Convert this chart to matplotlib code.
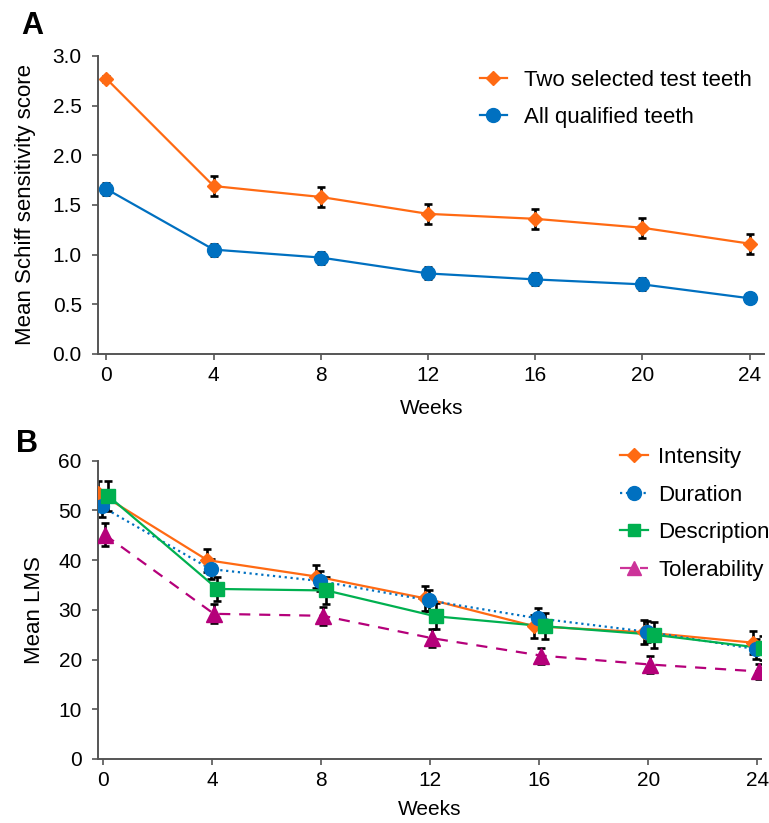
"""
Schiff sensitivity and LMS scores over 24 weeks (panels A and B)
"""

import matplotlib

matplotlib.use("Agg")
import matplotlib.pyplot as plt
from matplotlib.lines import Line2D

plt.rcParams["font.family"] = ["Liberation Sans", "DejaVu Sans"]

# --- data -------------------------------------------------------------
weeks = [0, 4, 8, 12, 16, 20, 24]
week_ticks = [0, 4, 8, 12, 16, 20, 24]

# panel A
schiff_test = [2.77, 1.69, 1.58, 1.41, 1.36, 1.27, 1.11]
schiff_test_err = [0.03, 0.10, 0.10, 0.10, 0.10, 0.10, 0.10]
schiff_all = [1.66, 1.05, 0.97, 0.81, 0.75, 0.70, 0.56]
schiff_all_err = [0.06, 0.06, 0.06, 0.06, 0.06, 0.06, 0.05]

# panel B
lms_intensity = [53.6, 40.0, 36.7, 32.3, 26.7, 25.5, 23.4]
lms_intensity_err = [2.3, 2.3, 2.4, 2.5, 2.3, 2.4, 2.3]
lms_duration = [50.8, 38.2, 35.8, 31.9, 28.3, 25.6, 22.1]
lms_duration_err = [2.1, 2.0, 2.1, 2.1, 2.0, 2.1, 2.0]
lms_description = [52.9, 34.2, 33.9, 28.7, 26.7, 25.0, 22.3]
lms_description_err = [3.0, 2.5, 2.8, 2.6, 2.6, 2.6, 2.4]
lms_tolerability = [45.1, 29.2, 28.8, 24.3, 20.8, 19.0, 17.6]
lms_tolerability_err = [2.3, 1.9, 1.8, 1.8, 1.6, 1.7, 1.5]

ORANGE = "#FF6A13"
BLUE = "#0070C0"
GREEN = "#00B050"
MAGENTA = "#B5007A"
PINK = "#CC3399"
SPINE = "#555555"

FS_TICK = 15
FS_XLABEL = 15
FS_YLABEL = 16
FS_LEGEND = 16


def style_axis(ax):
    for side in ("top", "right"):
        ax.spines[side].set_visible(False)
    for side in ("left", "bottom"):
        ax.spines[side].set_color(SPINE)
        ax.spines[side].set_linewidth(1.4)
    ax.tick_params(direction="out", length=4, width=1.2, color=SPINE,
                   labelsize=FS_TICK)
    ax.tick_params(axis="y", pad=8)
    ax.tick_params(axis="x", pad=5)
    ax.set_xticks(week_ticks)


def draw_series(ax, x, y, err, color, marker, ms, ls, label, dx=0.0):
    xs = [v + dx for v in x]
    ax.errorbar(xs, y, yerr=err, fmt="none", ecolor="black", elinewidth=1.9,
                capsize=3.2, capthick=1.9, zorder=2)
    ax.plot(xs, y, color=color, linestyle=ls, linewidth=1.6, zorder=3)
    ax.plot(xs, y, linestyle="none", marker=marker, markersize=ms,
            markerfacecolor=color, markeredgecolor=color, zorder=4, label=label)


fig = plt.figure(figsize=(7.69, 8.23), dpi=100)

# --- panel A ------------------------------------------------------------
axA = fig.add_axes([0.128, 0.570, 0.866, 0.362])
draw_series(axA, weeks, schiff_test, schiff_test_err, ORANGE, "D", 7.5, "-",
            "Two selected test teeth")
draw_series(axA, weeks, schiff_all, schiff_all_err, BLUE, "o", 10, "-",
            "All qualified teeth")
axA.set_xlim(-0.3, 24.55)
axA.set_ylim(0, 3.0)
axA.set_yticks([0.0, 0.5, 1.0, 1.5, 2.0, 2.5, 3.0])
axA.set_yticklabels([f"{v:.1f}" for v in axA.get_yticks()])
style_axis(axA)
axA.set_xlabel("Weeks", fontsize=FS_XLABEL, labelpad=10)
axA.set_ylabel("Mean Schiff sensitivity score", fontsize=FS_YLABEL,
               labelpad=12)

handlesA = [
    Line2D([], [], color=ORANGE, lw=1.6, marker="D", ms=7),
    Line2D([], [], color=BLUE, lw=1.6, marker="o", ms=10),
]
axA.legend(handlesA, ["Two selected test teeth", "All qualified teeth"],
           loc="upper left", bbox_to_anchor=(0.6125, 0.926),
           bbox_transform=fig.transFigure, frameon=False, fontsize=FS_LEGEND,
           handlelength=1.2, handletextpad=0.8, labelspacing=0.72,
           borderaxespad=0)

fig.text(0.028, 0.968, "A", fontsize=22, fontweight="bold", va="center")

# --- panel B ------------------------------------------------------------
axB = fig.add_axes([0.128, 0.0778, 0.862, 0.3624])
draw_series(axB, weeks, lms_intensity, lms_intensity_err, ORANGE, "D", 7.5,
            "-", "Intensity", dx=-0.17)
draw_series(axB, weeks, lms_duration, lms_duration_err, BLUE, "o", 10, ":",
            "Duration", dx=-0.05)
draw_series(axB, weeks, lms_tolerability, lms_tolerability_err, MAGENTA, "^",
            11, (0, (5, 4)), "Tolerability", dx=0.07)
draw_series(axB, weeks, lms_description, lms_description_err, GREEN, "s", 10,
            "-", "Description", dx=0.2)
axB.set_xlim(-0.165, 24.15)
axB.set_ylim(0, 60)
axB.set_yticks([0, 10, 20, 30, 40, 50, 60])
style_axis(axB)
axB.set_xlabel("Weeks", fontsize=FS_XLABEL, labelpad=7)
axB.set_ylabel("Mean LMS", fontsize=FS_YLABEL, labelpad=10)

handlesB = [
    Line2D([], [], color=ORANGE, lw=1.6, marker="D", ms=7),
    Line2D([], [], color=BLUE, lw=1.6, ls=":", marker="o", ms=10),
    Line2D([], [], color=GREEN, lw=1.6, marker="s", ms=9),
    Line2D([], [], color=PINK, lw=1.6, ls=(0, (5, 4)), marker="^", ms=10),
]
axB.legend(handlesB, ["Intensity", "Duration", "Description", "Tolerability"],
           loc="upper left", bbox_to_anchor=(0.7947, 0.4678),
           bbox_transform=fig.transFigure, frameon=False, fontsize=FS_LEGEND,
           handlelength=1.26, handletextpad=0.45, labelspacing=0.75,
           borderaxespad=0)

fig.text(0.021, 0.461, "B", fontsize=22, fontweight="bold", va="center")

fig.savefig("out.png", dpi=100)
plt.close(fig)
